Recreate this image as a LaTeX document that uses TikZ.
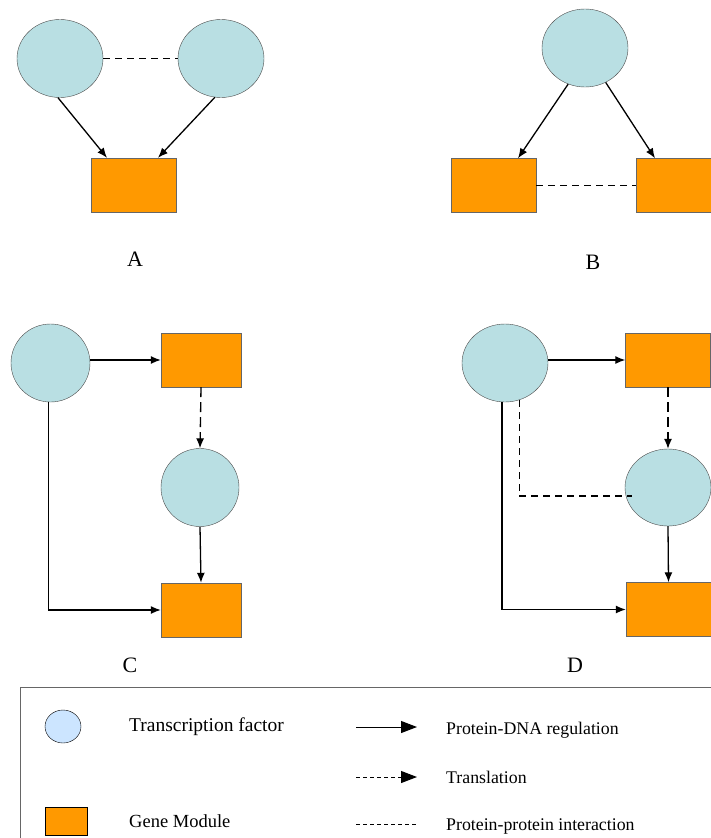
\documentclass[tikz,border=0pt]{standalone}
\usepackage{fontspec}
\setmainfont{Liberation Serif}
\usetikzlibrary{shapes.geometric,arrows.meta}
\definecolor{tfcol}{RGB}{185,223,227}
\definecolor{genecol}{RGB}{255,153,0}
\definecolor{keycol}{RGB}{204,229,255}
\begin{document}
\begin{tikzpicture}[x=1pt,y=-1pt,
  tf/.style={draw=black!70,fill=tfcol,ellipse,inner sep=0pt,minimum width=86pt,minimum height=78pt},
  gene/.style={draw=black!60,fill=genecol,rectangle,inner sep=0pt,minimum width=85pt,minimum height=54pt},
  reg/.style={draw,line width=1.3pt,-{Latex[length=10pt,width=8pt]}},
  trans/.style={reg,dash pattern=on 10pt off 5pt},
  ppi/.style={draw,line width=1.1pt,dash pattern=on 7pt off 5pt},
  lab/.style={font=\fontsize{22}{26}\selectfont,anchor=base},
  key/.style={font=\fontsize{17.8}{21}\selectfont,anchor=base west,inner sep=0pt},
  keyline/.style={draw,line width=1pt},
  keytip/.style={-{Triangle[length=16pt,width=12pt]}}]
\useasboundingbox (0,0) rectangle (711,838);
\clip (0,0) rectangle (711,838);

\node[tf] (a) at (60,58.5) {};
\node[tf] (b) at (221,58.5) {};
\node[gene] (c) at (134,185) {};
\path[ppi] (a) -- (b);
\path[reg] (a.-93) -- ([xshift=-27]c.north);
\path[reg] (b.-99) -- ([xshift=24]c.north);
\node[lab] (la) at (135,266) {A};

\node[tf] (d) at (585,48) {};
\node[gene] (e) at (493.5,185.5) {};
\node[gene] (f) at (678.5,185.5) {};
\path[reg] (d.-115) -- ([xshift=24.5]e.north);
\path[reg] (d.-59) -- ([xshift=-23.5]f.north);
\path[ppi] (e) -- (f);
\node[lab] (lb) at (593,269) {B};

\node[tf,minimum width=79pt] (g) at (50.5,363) {};
\node[gene,minimum width=80pt] (h) at (201,360) {};
\node[tf,minimum width=78pt] (i) at (200,487.5) {};
\node[gene,minimum width=80pt] (j) at (201,610) {};
\path[reg] (g.east |- h.west) -- (h.west);
\path[trans] (h.south) -- (i.north);
\path[reg] (i.south) -- (j.north);
\path[reg] ([xshift=-2]g.south) |- (j.west);
\node[lab] (lc) at (130,672) {C};

\node[tf] (k) at (505,363) {};
\node[gene] (l) at (668,360) {};
\node[tf,minimum height=77pt] (m) at (668,487.5) {};
\node[gene] (n) at (668.5,609.5) {};
\coordinate (o) at (632,496);
\path[reg] (k.east |- l.west) -- (l.west);
\path[trans] (l.south) -- (m.north);
\path[reg] (m.south) -- (n.north);
\path[reg] ([xshift=-3]k.south) |- (n.west);
\path[ppi] (k.-69) |- (o);
\node[lab] (ld) at (575,672) {D};

\draw[draw=black!60,line width=1pt] (20,687) rectangle (740,870);
\node[draw,fill=keycol,ellipse,inner sep=0pt,minimum width=36pt,minimum height=33pt] (p) at (63,726.5) {};
\node[draw,fill=genecol,inner sep=0pt,minimum width=42pt,minimum height=28pt] (q) at (66,821) {};
\node[key,font=\fontsize{19.5}{23}\selectfont] (tp) at (129,731) {Transcription factor};
\node[key,font=\fontsize{18.5}{22}\selectfont] (tq) at (129,827) {Gene Module};
\coordinate (r1) at (356,727);
\coordinate (r2) at (417,727);
\coordinate (s1) at (356,777);
\coordinate (s2) at (417,777);
\coordinate (t1) at (356,824);
\coordinate (t2) at (417,824);
\path[keyline,keytip] (r1) -- (r2);
\path[keyline,keytip,dash pattern=on 4pt off 3pt] (s1) -- (s2);
\path[keyline,dash pattern=on 4pt off 3pt] (t1) -- (t2);
\node[key] (tr) at (446,734) {Protein-DNA regulation};
\node[key] (ts) at (446,783) {Translation};
\node[key] (tt) at (446,830) {Protein-protein interaction};
\end{tikzpicture}
\end{document}
